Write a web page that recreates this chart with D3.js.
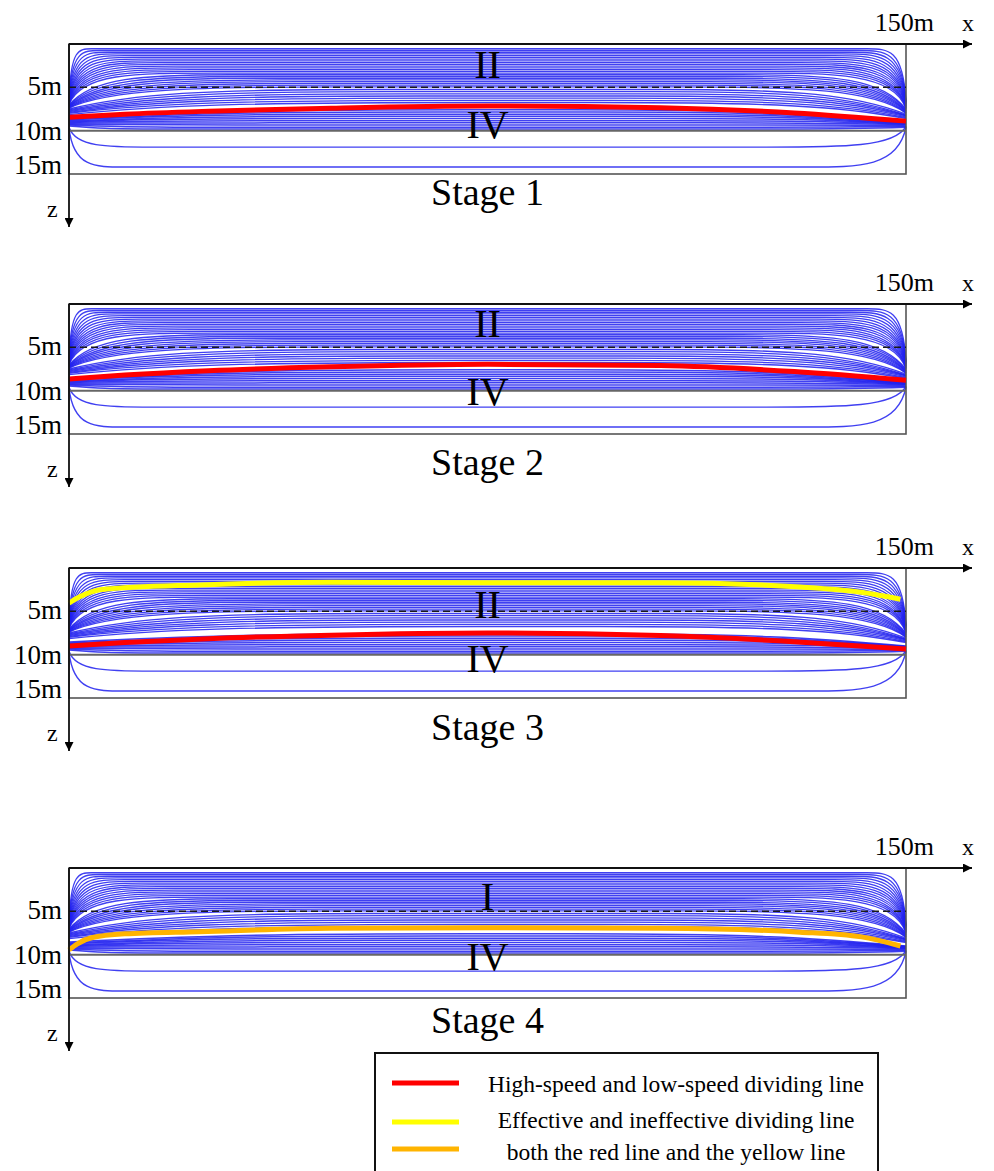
<!DOCTYPE html>
<html>
<head>
<meta charset="utf-8">
<script src="https://cdn.jsdelivr.net/npm/d3@7"></script>
<style>
  html, body { margin: 0; padding: 0; background: #fff; }
  svg { display: block; }
</style>
</head>
<body>
<svg id="chart" width="994" height="1171" font-family="'Liberation Serif', 'Times New Roman', serif"></svg>
<script>
// ---- data ----
const stageNames = ['Stage 1', 'Stage 2', 'Stage 3', 'Stage 4'];
const upperZoneLabels = ['II', 'II', 'II', 'I'];
const lowerZoneLabels = ['IV', 'IV', 'IV', 'IV'];
const depthTicks = [5, 10, 15];
const depthTickLabels = ['5m', '10m', '15m'];
const xEndLabel = '150m';

// streamlines: [plateau depth m, left reach m, right reach m, start depth m, end depth m]
const outerStreams = [
  [0.55, 4, 7, 6.3, 6.6], [0.75, 5.5, 8.5, 6.35, 6.65], [0.95, 7, 10, 6.4, 6.7],
  [1.15, 8.5, 11.5, 6.45, 6.75], [1.35, 10, 13, 6.5, 6.8], [1.55, 11.5, 14.5, 6.55, 6.9],
  [1.75, 13, 16, 6.6, 6.95], [1.95, 14.5, 17.5, 6.65, 7.0], [2.15, 16, 19, 6.7, 7.1],
  [2.35, 17.5, 20.5, 6.75, 7.15], [2.55, 19, 22, 6.8, 7.2], [2.75, 20.5, 23.5, 6.85, 7.3],
  [2.95, 22, 25, 6.9, 7.35], [3.15, 24, 26.5, 6.95, 7.4], [3.35, 26, 28, 7.0, 7.5]
];
const innerStreams = [
  [3.55, 29, 29.5, 7.05, 7.55], [3.75, 32, 31, 7.1, 7.6], [3.95, 35, 32.5, 7.15, 7.7],
  [4.15, 38, 34, 7.2, 7.75], [4.35, 41, 35.5, 7.25, 7.8], [4.55, 44, 37, 7.3, 7.9],
  [4.75, 47, 39, 7.35, 7.95], [4.95, 50, 41, 7.4, 8.0]
];
const middleStreams = [
  [5.25, 54, 43, 7.5, 8.1], [5.5, 57, 45, 7.6, 8.2], [5.75, 60, 47, 7.7, 8.25],
  [6.0, 63, 49, 7.8, 8.3], [6.25, 66, 51, 7.9, 8.4], [6.5, 70, 53, 8.0, 8.5],
  [6.75, 74, 55, 8.15, 8.6]
];
const lowerStreams = [
  [7.6, 72, 60, 8.55, 9.0], [7.85, 66, 56, 8.65, 9.05], [8.1, 60, 52, 8.75, 9.1],
  [8.35, 54, 48, 8.85, 9.15], [8.6, 48, 44, 8.95, 9.2], [8.85, 42, 40, 9.05, 9.25],
  [9.1, 36, 36, 9.15, 9.3], [9.35, 30, 32, 9.25, 9.4], [9.6, 22, 27, 9.35, 9.5],
  [9.8, 16, 22, 9.45, 9.6]
];
const deepStreams = [
  [11.9, 15, 25, 9.6, 9.5], [14.2, 10, 18, 9.7, 9.6]
];

// dividing lines per stage: [x m, depth m]
const redLines = [
  [[0, 8.45], [10, 8.1], [25, 7.75], [47, 7.4], [75, 7.15], [106, 7.35], [130, 7.95], [150, 8.9]],
  [[0, 8.65], [10, 8.2], [25, 7.7], [47, 7.25], [75, 6.95], [106, 7.1], [130, 7.8], [150, 8.8]],
  [[0, 9.0], [10, 8.6], [25, 8.15], [47, 7.75], [75, 7.5], [106, 7.8], [130, 8.5], [150, 9.35]],
  null
];
const yellowLines = [
  null, null,
  [[0, 4.05], [2, 3.3], [5.6, 2.5], [23.5, 1.95], [47, 1.65], [75, 1.7], [106, 1.7], [131, 2.2], [142, 2.8], [149, 3.6]],
  null
];
const orangeLines = [
  null, null, null,
  [[0, 9.45], [1.5, 8.75], [4, 8.05], [10, 7.6], [23.5, 7.35], [47, 6.95], [75, 6.9], [106, 6.95], [131, 7.4], [142, 7.95], [149, 9.0]]
];
const legendLabels = [
  'High-speed and low-speed dividing line',
  'Effective and ineffective dividing line',
  'both the red line and the yellow line'
];

// ---- layout ----
const panelTops = [44, 304, 568, 868];
const panelDepth = 130;
const stageLabelY = [205, 475, 740, 1033];
const upperLabelY = [78, 337, 618, 910];
const lowerLabelY = [138, 405, 672, 970];
const tickDy = [8, 9, 0];
const lineColors = { red: '#ff0000', yellow: '#ffff00', orange: '#ffb400' };

const svg = d3.select('#chart');
const x = d3.scaleLinear().domain([0, 150]).range([69, 906]);

const defs = svg.append('defs');
defs.append('marker')
  .attr('id', 'arrow')
  .attr('viewBox', '0 0 10 10')
  .attr('refX', 10).attr('refY', 5)
  .attr('markerUnits', 'userSpaceOnUse')
  .attr('markerWidth', 11).attr('markerHeight', 9)
  .attr('orient', 'auto')
  .append('path').attr('d', 'M0,0L10,5L0,10Z').attr('fill', '#000');

// bend: how far along the reach the first control point sits; lift: share of the rise it takes
function streamPath(s, z, bend, lift) {
  const [p, a, b, z0, z1] = s;
  const path = d3.path();
  path.moveTo(x(0), z(z0));
  path.bezierCurveTo(x(a * bend), z(z0 + (p - z0) * lift), x(a * 0.45), z(p), x(a), z(p));
  path.lineTo(x(150 - b), z(p));
  path.bezierCurveTo(x(150 - b * 0.45), z(p), x(150 - b * bend), z(z1 + (p - z1) * lift), x(150), z(z1));
  return path.toString();
}

const streamGroups = [
  { lines: outerStreams, width: 1.3, bend: 0.08, lift: 1 },
  { lines: innerStreams, width: 1.3, bend: 0.14, lift: 0.9 },
  { lines: middleStreams, width: 1.35, bend: 0.22, lift: 0.8 },
  { lines: lowerStreams, width: 1.5, bend: 0.3, lift: 0.7 },
  { lines: deepStreams, width: 1.4, bend: 0.08, lift: 1 }
];

panelTops.forEach((top, i) => {
  const z = d3.scaleLinear().domain([0, 15]).range([top, top + panelDepth]);
  const g = svg.append('g').attr('class', 'panel');

  // streamlines
  streamGroups.forEach((group) => {
    g.append('g')
      .selectAll('path')
      .data(group.lines)
      .join('path')
      .attr('d', (s) => streamPath(s, z, group.bend, group.lift))
      .attr('fill', 'none')
      .attr('stroke', '#1e1eee')
      .attr('stroke-opacity', 0.85)
      .attr('stroke-width', group.width);
  });

  // frame and reference depths
  g.append('rect')
    .attr('x', x(0)).attr('y', z(0))
    .attr('width', x(150) - x(0)).attr('height', z(15) - z(0))
    .attr('fill', 'none').attr('stroke', '#555').attr('stroke-width', 1.6);

  g.append('line')
    .attr('x1', x(0)).attr('x2', x(150))
    .attr('y1', z(5)).attr('y2', z(5))
    .attr('stroke', '#1a1a1a').attr('stroke-width', 1.5)
    .attr('stroke-dasharray', '7 4');

  g.append('line')
    .attr('x1', x(0)).attr('x2', x(150))
    .attr('y1', z(10)).attr('y2', z(10))
    .attr('stroke', '#666').attr('stroke-width', 2);

  // dividing lines
  const divLine = d3.line().x((d) => x(d[0])).y((d) => z(d[1])).curve(d3.curveMonotoneX);
  [[yellowLines[i], lineColors.yellow], [redLines[i], lineColors.red], [orangeLines[i], lineColors.orange]]
    .forEach(([pts, color]) => {
      if (!pts) return;
      g.append('path')
        .attr('d', divLine(pts))
        .attr('fill', 'none')
        .attr('stroke', color)
        .attr('stroke-width', 5);
    });

  // axes
  g.append('line')
    .attr('x1', x(0)).attr('x2', 972)
    .attr('y1', top).attr('y2', top)
    .attr('stroke', '#111').attr('stroke-width', 1.8)
    .attr('marker-end', 'url(#arrow)');
  g.append('line')
    .attr('x1', x(0)).attr('x2', x(0))
    .attr('y1', top).attr('y2', top + 183)
    .attr('stroke', '#111').attr('stroke-width', 1.8)
    .attr('marker-end', 'url(#arrow)');

  g.append('g')
    .selectAll('text')
    .data(depthTicks)
    .join('text')
    .attr('x', 62)
    .attr('y', (d, k) => z(d) + tickDy[k])
    .attr('text-anchor', 'end')
    .attr('font-size', 27)
    .text((d, k) => depthTickLabels[k]);

  g.append('text').attr('x', 934).attr('y', top - 13)
    .attr('text-anchor', 'end').attr('font-size', 26).text(xEndLabel);
  g.append('text').attr('x', 962).attr('y', top - 13)
    .attr('font-size', 24).text('x');
  g.append('text').attr('x', 47).attr('y', top + 173)
    .attr('font-size', 24).text('z');

  g.append('text').attr('x', x(75)).attr('y', upperLabelY[i])
    .attr('text-anchor', 'middle').attr('font-size', 40).text(upperZoneLabels[i]);
  g.append('text').attr('x', x(75)).attr('y', lowerLabelY[i])
    .attr('text-anchor', 'middle').attr('font-size', 40).text(lowerZoneLabels[i]);
  g.append('text').attr('x', x(75)).attr('y', stageLabelY[i])
    .attr('text-anchor', 'middle').attr('font-size', 38).text(stageNames[i]);
});

// legend
const legend = svg.append('g').attr('class', 'legend');
legend.append('rect')
  .attr('x', 375).attr('y', 1053).attr('width', 503).attr('height', 140)
  .attr('fill', '#fff').attr('stroke', '#111').attr('stroke-width', 2);
const legendColors = [lineColors.red, lineColors.yellow, lineColors.orange];
const legendLineY = [1083, 1122, 1149];
const legendTextY = [1092, 1128, 1160];
legend.selectAll('line')
  .data(legendLabels)
  .join('line')
  .attr('x1', 392).attr('x2', 459)
  .attr('y1', (d, k) => legendLineY[k]).attr('y2', (d, k) => legendLineY[k])
  .attr('stroke', (d, k) => legendColors[k]).attr('stroke-width', 5);
legend.selectAll('text')
  .data(legendLabels)
  .join('text')
  .attr('x', 676)
  .attr('y', (d, k) => legendTextY[k])
  .attr('text-anchor', 'middle')
  .attr('font-size', 23.5)
  .text((d) => d);
</script>
</body>
</html>
